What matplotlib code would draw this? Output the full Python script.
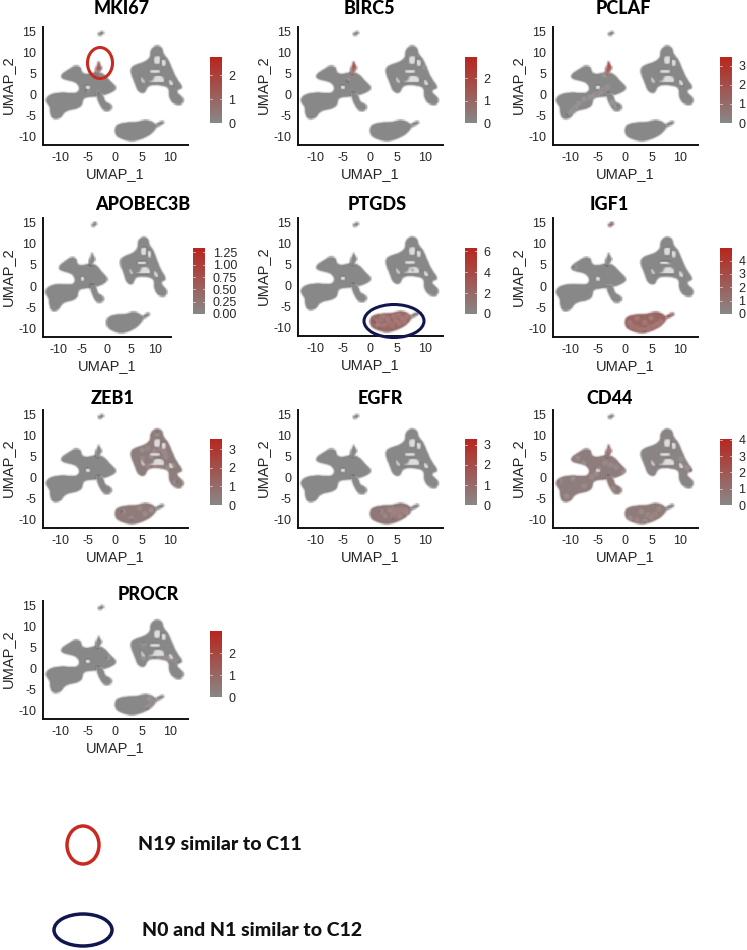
import matplotlib
matplotlib.use("Agg")
import matplotlib.pyplot as plt
import numpy as np
from matplotlib.colors import LinearSegmentedColormap
from matplotlib.patches import Ellipse, Polygon

W, H = 747, 950
plt.rcParams['font.family'] = ['Liberation Sans', 'DejaVu Sans']
TITLE_FONT = ['Lato', 'DejaVu Sans']

# ---- UMAP cluster outlines (UMAP_1, UMAP_2) ----
LEFT = [(-12.4,-0.6),(-11.4,0.2),(-10,0.5),(-7.9,0.4),(-6.9,0.4),(-6.4,1.2),(-6.6,2.3),(-7.3,3.1),(-9.1,3.6),(-9.8,4.1),
        (-9.6,4.9),(-8.4,5.9),(-7.3,6.8),(-6.2,6.5),(-6.1,5.1),(-5,4.8),(-3.3,5.4),(-2.1,4.9),(-1,3.3),(0.2,1.8),
        (-0.3,0.8),(-2.1,-0.1),(-3.9,-0.4),(-5.5,-0.6),(-5.9,-1.2),(-6,-2.5),(-7,-3.3),(-8.5,-3.6),(-9.3,-4.2),(-9.9,-5.5),
        (-11.4,-5.7),(-11.8,-4),(-11.8,-2.8),(-12.5,-1.7)]
STALK = [(-3.4,0.6),(-2.1,-0.2),(-1.9,-1.7),(-0.8,-2.2),(-0.7,-3.6),(-2.1,-3.7),(-2.7,-2.4),(-3.2,-1)]
N19 = [(-3,7.8),(-2.7,7),(-2.4,6.3),(-2.8,5.5),(-3.3,4.7),(-3.5,5.9),(-3.2,6.9)]
SPECK = [(-3,14.5),(-2.3,15),(-2,14.5),(-2.8,13.9)]
RIGHT = [(3,6.4),(3.9,7.1),(5.2,7.6),(6,8.2),(6.5,9),(6.5,10.6),(7.5,11.6),(8.6,11.1),(8.8,9.5),(9.6,8.5),(10.3,6.3),
         (11.1,3.9),(12.4,1.6),(11.3,1.2),(11.2,0.5),(12.5,-0.9),(12.1,-2.4),(10.5,-2),(9.8,-0.2),(9.9,1.5),(9.1,2.1),
         (7.3,2.4),(5.9,2.1),(5.4,0.3),(4.2,0.8),(3.6,3.1),(3,4.9)]
BOTTOM = [(0.1,-7.6),(0.9,-6.9),(2.4,-6.6),(3.9,-6.6),(5.6,-6),(6.9,-6.5),(7.6,-7.6),(6.8,-9),(5.5,-10.1),(3.3,-11),(1.4,-10.5),(0.1,-9.5)]
SPUR = [(7.4,-7),(8.7,-6.2),(8.9,-6.8),(7.7,-7.5)]
CLUSTERS = {'left': LEFT, 'stalk': STALK, 'n19': N19, 'speck': SPECK, 'right': RIGHT, 'bottom': BOTTOM, 'spur': SPUR}

# gaps inside the clouds
GAP_A = [(7,8.9),(8.3,9.3),(8.2,7.2),(7.2,7.2)]
GAP_B = [(8.5,8.6),(9.4,7.9),(9,6.4),(8.4,7.2)]
GAP_C = [(5.7,2.9),(7,3.3),(7.1,4.3),(8,4.7),(8.9,4),(9.1,2.9),(7.5,2.9)]
GAP_D = [(9.7,3.8),(10.5,3),(10.8,2),(9.9,2.3)]
GAP_E = [(6.3,5.9),(8.3,5.9),(8.2,5.1),(6.4,5.1)]
GAP_F = [(4.5,4.5),(5.3,3.4),(5.7,2.6),(4.9,3)]
GAP_G = [(-5.4,2.3),(-4.5,2.2),(-4.5,1.3),(-5.3,1.2)]
GAPS = [GAP_A, GAP_B, GAP_C, GAP_D, GAP_E, GAP_F, GAP_G]

# ---- genes ----
GENES = ['MKI67','BIRC5','PCLAF','APOBEC3B','PTGDS','IGF1','ZEB1','EGFR','CD44','PROCR']
SCALE_MAX = [2.75, 2.95, 3.45, 1.34, 6.3, 4.95, 3.54, 3.3, 4.05, 3.0]
TICKS = [[0,1,2],[0,1,2],[0,1,2,3],[0,0.25,0.5,0.75,1,1.25],[0,2,4,6],[0,1,2,3,4],[0,1,2,3],[0,1,2,3],[0,1,2,3,4],[0,1,2]]

# typical expression of each cluster, per gene
LEVELS = {
 'MKI67':    {'n19':0.5},
 'BIRC5':    {'n19':0.9},
 'PCLAF':    {'n19':1.5},
 'APOBEC3B': {},
 'PTGDS':    {'bottom':2.0,'spur':0.4},
 'IGF1':     {'bottom':1.7,'spur':1.8,'speck':1.2},
 'ZEB1':     {'right':0.4,'bottom':0.45,'stalk':0.1},
 'EGFR':     {'bottom':0.5},
 'CD44':     {'left':0.45,'stalk':0.6,'n19':0.9,'right':0.15,'bottom':0.5},
 'PROCR':    {},
}

# individually visible strong cells: (UMAP_1, UMAP_2, expression)
HOT = {
 'MKI67': [(-3,7.4,2.6),(-3,6.9,2.2),(-3.1,6.4,2),(-2.9,6,1.8),(-3.3,5.9,1.6),(-5,1,0.8),(-3,0.5,0.7)],
 'BIRC5': [(-3,7.4,2.7),(-2.9,6.9,2.5),(-2.7,6.5,2.2),(-3.1,6.2,2.2),(-3.2,5.6,1.6),(-4,3.3,1.2),(10,6.5,1)],
 'PCLAF': [(-3,7.4,3.2),(-2.9,6.9,3),(-2.7,6.4,2.6),(-3.1,6,2.7),(-3.2,5.4,2.2),(-3.7,4.7,1.5),(-3.2,1.8,1.4),
           (-3.8,1.1,1.6),(-4.4,0.7,1.6),(-5,0.2,1.8),(-5.6,-0.2,1.8),(-6.4,-0.6,1.5),(-7.4,-1.1,1.2),(-8.4,-2,1.3),
           (-9,-3,1.4),(-9.6,-3.8,1.4),(-10.4,-4.6,1.6),(-9.2,-4.2,1.2),(-2.4,-1.8,1.2),(-1.6,-2.6,1.2)],
 'APOBEC3B': [],
 'PTGDS': [(1,-8.4,4.5),(1.2,-9,4),(2,-8,3.6),(2.6,-9.3,3.8),(3.2,-7.8,3.4),(3.5,-8.8,4.4),(4,-9.4,3.6),(4.4,-7.3,4),
           (4.7,-8.3,4.2),(5.2,-7,4),(5.3,-8.9,3.8),(5.9,-7.6,4.5),(6.2,-8.4,3.6),(2.3,-7.2,3),(6.7,-7.3,3),(1.7,-9.6,3),
           (7.6,3.7,4)],
 'IGF1': [(0.9,-8.5,3.2),(1.3,-9.4,3.4),(2.1,-9.8,3.6),(3,-10.2,3.8),(3.7,-10.3,3.5),(4.4,-9.7,3.8),(5.2,-9.4,3.6),
          (5.9,-8.9,3.4),(6.5,-8.3,3),(2.2,-7.5,2.8),(3.6,-8.5,3),(4.8,-7.4,2.8),(-9.1,4.5,1.8),(8.6,-6.5,2.4),(8,5.4,1.5)],
 'ZEB1': [(5,6.5,1.3),(6,7,1.4),(7.2,6.2,1.3),(8.2,6.8,1.5),(9,6,1.5),(9.3,5,1.4),(6.6,5,1.3),(5,4.5,1.4),
          (6,2.7,2),(7.3,2.7,2),(8.4,2.7,2),(9.6,2.4,1.6),(10.6,2.8,1.4),(7.7,10.4,1),(11,-1,1),
          (1.5,-8,1.3),(3,-9.6,1.4),(4.5,-7.2,1.4),(5.5,-8.5,1.3),(6.6,-7.6,1.3)],
 'EGFR': [(2,-8,1.4),(2.8,-9,1.3),(3.6,-7.6,1.8),(4.2,-8.4,2.2),(4.6,-7.2,2.4),(5,-8,2.2),(5.4,-9,1.8),(5.8,-7.4,2.2),
          (6.3,-8,2),(4.2,-9.4,1.6),(6.9,-7.2,1.5),(7,-8.4,1.8)],
 'CD44': [(-3,7.3,2.6),(-2.8,6.5,1.8),(-3.6,3.5,1.6),(-2.6,3,1.8),(-1.6,2.5,1.8),(-0.3,1.4,2.2),(-4.8,2,1.4),(-6,0.2,1.8),
          (-5.2,1,1.5),(-8.6,4.6,1.6),(-7.5,3.4,1.4),(-11.8,-0.8,1.6),(-9.5,-0.2,1.2),(-7.4,-2,1.3),(-10.6,-4.4,1.3),
          (11.8,1.8,3.2),(11.2,2.4,2),(10.2,4.4,1.2),(-2.2,-2.6,1.4),
          (1,-9.6,1.6),(2.2,-10.1,2),(3.6,-10.3,1.8),(4.8,-9.3,2.4),(5.5,-8.6,2.6),(4.2,-8.8,2),(6.2,-7.4,1.8),(3,-8,1.5)],
 'PROCR': [(5.2,2.6,1.4),(6.4,2.6,1),(9.1,2.6,1.4),(9.9,2.6,1.8),(10.6,2.2,1.6),(11.3,1.6,1.4),(8.1,2.6,1.2),(5.2,5.8,1),
           (6.3,-7.1,1.6),(6.5,-8.6,1.4),(6.9,-7.9,1.2),(6,-9.2,1.6),(-1.3,2.6,0.6)],
}

# ---- layout (px): left, right, top, bottom; colourbar left, top ----
PANELS = [
 (43,188,27,145,210,57),(298,443,27,145,465,57),(553,698,27,145,720,57),
 (43,171,218,337,193,248),(298,443,218,336,465,248),(553,698,218,337,720,248),
 (43,188,410,528,210,439),(298,443,410,528,465,439),(553,698,410,528,720,439),
 (43,188,601,719,210,631),
]
TITLE_POS = [(122,9),(369,9),(623,9),(143,205),(377,205),(609,205),(113,399),(380,399),(610,399),(148,595)]

GREY = '#888888'
RED = '#b8261f'
INK = '#262626'
cmap = LinearSegmentedColormap.from_list('expr', [GREY, RED])


def soften(img, dpi):
    """Slight box blur, for the soft look of the cell clouds."""
    pad = 2
    out = np.pad(img, ((pad, pad), (pad, pad), (0, 0)))
    for axis in (0, 1):
        out = (np.roll(out, 1, axis) + out + np.roll(out, -1, axis)) / 3
    return out, -pad, -pad


def rounded(pts, passes=2):
    """Round the corners of a closed outline."""
    p = np.asarray(pts, float)
    for _ in range(passes):
        q = np.roll(p, -1, axis=0)
        p = np.column_stack([0.75*p + 0.25*q, 0.25*p + 0.75*q]).reshape(-1, 2)
    return p


fig = plt.figure(figsize=(W/100, H/100), dpi=100, facecolor='white')

def px_axes(l, r, t, b):
    return fig.add_axes([l/W, 1-b/H, (r-l)/W, (b-t)/H])

for gene, vmax, ticks, (l,r,t,b,cl,ct), (tx,ty) in zip(GENES, SCALE_MAX, TICKS, PANELS, TITLE_POS):
    ax = px_axes(l, r, t, b)
    ax.set_xlim(-13.1, 13.3)
    ax.set_ylim(-11.9, 16)
    for name, pts in CLUSTERS.items():
        c = cmap(LEVELS[gene].get(name, 0) / vmax)
        pa = Polygon(rounded(pts), closed=True, facecolor=c, edgecolor=c, lw=1.1, joinstyle='round', zorder=2)
        pa.set_agg_filter(soften)
        ax.add_patch(pa)
    for g in GAPS:
        pa = Polygon(rounded(g, 1), closed=True, facecolor='white', edgecolor='none', alpha=0.72, zorder=3)
        pa.set_agg_filter(soften)
        ax.add_patch(pa)
    hot = HOT[gene]
    if hot:
        xs, ys, vs = zip(*hot)
        sc = ax.scatter(xs, ys, c=vs, cmap=cmap, vmin=0, vmax=vmax, s=3, linewidths=0, zorder=4)
        sc.set_agg_filter(soften)
    for s in ('top','right'):
        ax.spines[s].set_visible(False)
    for s in ('left','bottom'):
        ax.spines[s].set_linewidth(1.4)
        ax.spines[s].set_color('#111111')
    ax.set_xticks([-10,-5,0,5,10])
    ax.set_yticks([-10,-5,0,5,10,15])
    ax.tick_params(length=0, pad=5, labelsize=9, labelcolor=INK)
    ax.set_xticklabels(['-10','-5','0','5','10'])
    ax.set_yticklabels(['-10','-5','0','5','10','15'])
    ax.set_xlabel('UMAP_1', fontsize=10.5, color=INK, labelpad=2)
    fig.text((l-35)/W, 1-((t+b)/2-1)/H, 'UMAP_2', fontsize=10.5, color=INK, rotation=90, ha='center', va='center')
    fig.text(tx/W, 1-ty/H, gene, fontsize=13, fontweight=900, family=TITLE_FONT, color='black', ha='center', va='center')

    cax = px_axes(cl, cl+12, ct, ct+66)
    cax.imshow([[v/100] for v in range(100, -1, -1)], cmap=cmap, vmin=0, vmax=1, aspect='auto',
               extent=[0, 1, 0, vmax], interpolation='bilinear')
    cax.set_xticks([])
    cax.yaxis.tick_right()
    cax.set_yticks(ticks)
    cax.set_yticklabels([f'{v:.2f}' if gene == 'APOBEC3B' else str(v) for v in ticks])
    cax.tick_params(length=0, pad=5.5 if gene == 'APOBEC3B' else 4.5, labelsize=9, labelcolor=INK)
    for s in cax.spines.values():
        s.set_visible(False)
    for v in ticks:
        cax.plot([0,0.2],[v,v], color='white', lw=0.5, alpha=0.8)
        cax.plot([0.8,1],[v,v], color='white', lw=0.5, alpha=0.8)
    cax.set_xlim(0,1); cax.set_ylim(0,vmax)

# ---- annotation layer in pixels ----
top = fig.add_axes([0,0,1,1], facecolor='none')
top.set_xlim(0,W); top.set_ylim(H,0); top.axis('off')
ANNOT_RED = '#c92a20'
ANNOT_NAVY = '#12164f'
top.add_patch(Ellipse((100,63), 25, 31, fill=False, edgecolor=ANNOT_RED, lw=2.2))
top.add_patch(Ellipse((394,321), 60, 33, fill=False, edgecolor=ANNOT_NAVY, lw=2.2))
top.add_patch(Ellipse((83,845), 32, 38, fill=False, edgecolor=ANNOT_RED, lw=2.5))
top.add_patch(Ellipse((83,930), 58, 32, fill=False, edgecolor=ANNOT_NAVY, lw=2.5))
top.text(138, 845, 'N19 similar to C11', fontsize=14, fontweight=900, family=TITLE_FONT, color='#111111', va='center')
top.text(142, 931, 'N0 and N1 similar to C12', fontsize=14, fontweight=900, family=TITLE_FONT, color='#111111', va='center')

fig.savefig('out.png', dpi=100)
